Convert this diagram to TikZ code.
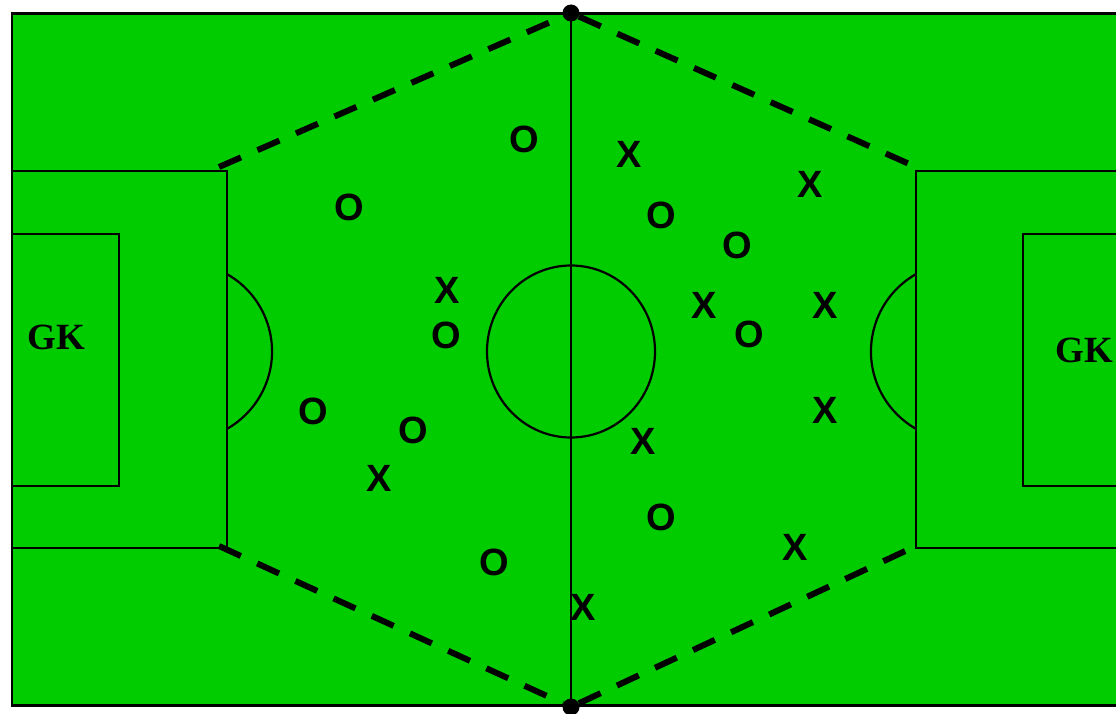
\documentclass[tikz,border=0pt]{standalone}
\usepackage{fontspec}
\setmainfont{Liberation Serif}
\newfontfamily\arialf{Liberation Sans}
\definecolor{pitchgreen}{HTML}{00CC00}
\begin{document}
\begin{tikzpicture}[x=1pt,y=-1pt,
  pitchline/.style={line width=2.2pt},
  zoneline/.style={line width=6pt, dash pattern=on 24pt off 18pt},
  player/.style={inner sep=0pt, font=\arialf\bfseries\fontsize{38}{38}\selectfont},
  gk/.style={inner sep=0pt, font=\bfseries\fontsize{37}{37}\selectfont},
  spot/.style={circle, fill=black, minimum size=17pt, inner sep=0pt}]
\useasboundingbox (0,0) rectangle (1116,714);
\clip (0,0) rectangle (1116,714);
% pitch
\draw[pitchline, fill=pitchgreen] (12,13.5) rectangle (1135,705.5);
% halfway line and centre circle
\draw[pitchline] (571,13.5) -- (571,705.5);
\draw[pitchline] (571,351.5) ellipse [x radius=84, y radius=86];
% left penalty area, goal area, arc
\draw[pitchline] (12,171) -- (227,171) -- (227,548) -- (12,548);
\draw[pitchline] (12,234) -- (119,234) -- (119,486) -- (12,486);
\draw[pitchline] (227,274.1) arc[start angle=-60.4, end angle=60.4, radius=89];
% right penalty area, goal area, arc
\draw[pitchline] (1135,171) -- (916,171) -- (916,548) -- (1135,548);
\draw[pitchline] (1135,234) -- (1023,234) -- (1023,486) -- (1135,486);
\draw[pitchline] (916,274.1) arc[start angle=-119.6, end angle=-240.4, radius=89];
% spots
\node[spot] (topspot) at (571,13) {};
\node[spot] (botspot) at (571,707) {};
\coordinate (plt) at (219,167);
\coordinate (plb) at (219,546);
\coordinate (prt) at (916,167);
\coordinate (prb) at (916,546);
\draw[zoneline] (plt) -- (topspot);
\draw[zoneline] (topspot) -- (prt);
\draw[zoneline] (plb) -- (botspot);
\draw[zoneline] (botspot) -- (prb);
% goalkeepers
\node[gk] (gkl) at (56,337) {GK};
\node[gk] (gkr) at (1084,350) {GK};
% O players
\node[player] (o1) at (524,139) {O};
\node[player] (o2) at (349,207) {O};
\node[player] (o3) at (446,335) {O};
\node[player] (o4) at (313,411) {O};
\node[player] (o5) at (413,430) {O};
\node[player] (o6) at (494,562) {O};
\node[player] (o7) at (661,215) {O};
\node[player] (o8) at (737,245) {O};
\node[player] (o9) at (749,334) {O};
\node[player] (o10) at (661,517) {O};
% X players
\node[player] (x1) at (447,290) {X};
\node[player] (x2) at (379,478) {X};
\node[player] (x3) at (629,154) {X};
\node[player] (x4) at (810,184) {X};
\node[player] (x5) at (704,305) {X};
\node[player] (x6) at (825,305) {X};
\node[player] (x7) at (825,410) {X};
\node[player] (x8) at (643,441) {X};
\node[player] (x9) at (795,547) {X};
\node[player] (x10) at (583,607) {X};
\end{tikzpicture}
\end{document}
